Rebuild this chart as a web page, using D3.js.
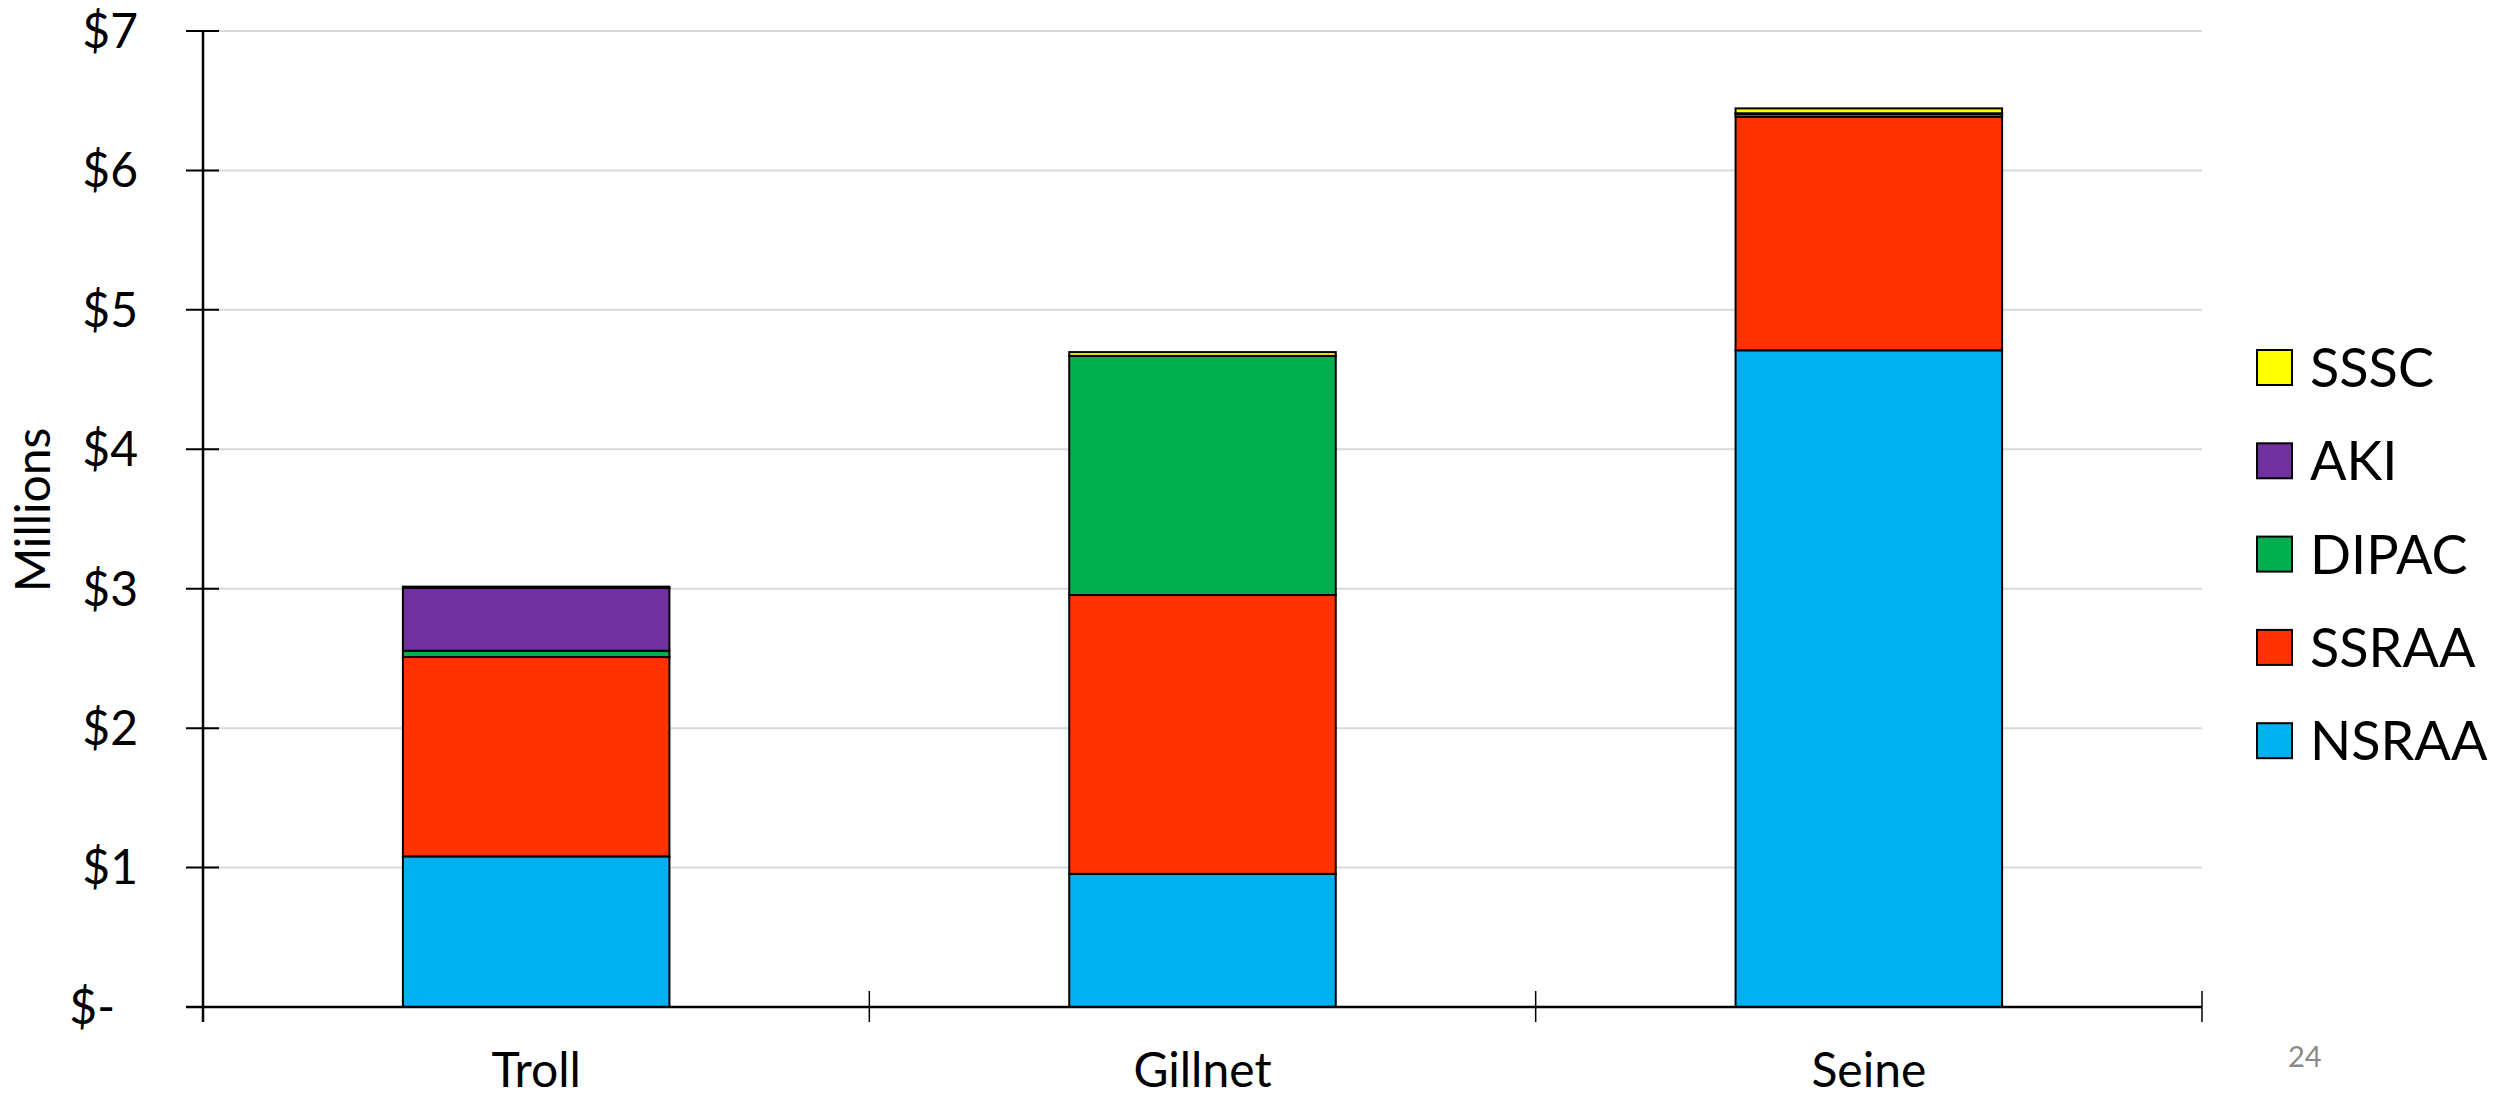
<!DOCTYPE html>
<html>
<head>
<meta charset="utf-8">
<script src="https://cdn.jsdelivr.net/npm/d3@7"></script>
<style>
  html, body { margin: 0; padding: 0; background: #fff; }
  svg { display: block; }
  text { font-family: Lato, "Open Sans", "Liberation Sans", sans-serif; }
</style>
</head>
<body>
<svg id="chart" width="2497" height="1097"></svg>
<script>
// ---- Data (values in millions of dollars) ----
const categories = ["Troll", "Gillnet", "Seine"];
const seriesNames = ["NSRAA", "SSRAA", "DIPAC", "AKI", "SSSC"];
const NSRAA = [1.08, 0.955, 4.71];
const SSRAA = [1.43, 2.0, 1.675];
const DIPAC = [0.045, 1.715, 0.02];
const AKI   = [0.45, 0.0, 0.005];
const SSSC  = [0.01, 0.027, 0.035];
const yTicks = [0, 1, 2, 3, 4, 5, 6, 7];
const yTickLabels = ["$-", "$1", "$2", "$3", "$4", "$5", "$6", "$7"];
const legendOrder = ["SSSC", "AKI", "DIPAC", "SSRAA", "NSRAA"];
const colors = {
  NSRAA: "#00B0F0",
  SSRAA: "#FF3300",
  DIPAC: "#00B050",
  AKI:   "#7030A0",
  SSSC:  "#FFFF00"
};
const yTitle = "Millions";
const pageNumber = "24";

// ---- Build table for stacking ----
const seriesValues = { NSRAA, SSRAA, DIPAC, AKI, SSSC };
const table = categories.map((c, i) => {
  const row = { category: c };
  seriesNames.forEach(s => row[s] = seriesValues[s][i]);
  return row;
});
const stacked = d3.stack().keys(seriesNames)(table);

// ---- Layout ----
const plot = { left: 203, right: 2202, top: 31, bottom: 1007 };
const svg = d3.select("#chart");

const x = d3.scaleBand()
  .domain(categories)
  .range([plot.left, plot.right])
  .paddingInner(0)
  .paddingOuter(0);
const barW = x.bandwidth() * 0.4;

const y = d3.scaleLinear()
  .domain([0, 7])
  .range([plot.bottom, plot.top]);

// Gridlines
svg.append("g")
  .selectAll("line")
  .data(yTicks.filter(t => t > 0))
  .join("line")
  .attr("x1", plot.left)
  .attr("x2", plot.right)
  .attr("y1", d => y(d))
  .attr("y2", d => y(d))
  .attr("stroke", "#d9d9d9")
  .attr("stroke-width", 2);

// Bars
svg.append("g")
  .selectAll("g")
  .data(stacked)
  .join("g")
  .attr("fill", d => colors[d.key])
  .selectAll("rect")
  .data(d => d.filter(p => p[1] - p[0] > 0))
  .join("rect")
  .attr("x", d => x(d.data.category) + (x.bandwidth() - barW) / 2)
  .attr("width", barW)
  .attr("y", d => y(d[1]))
  .attr("height", d => y(d[0]) - y(d[1]))
  .attr("stroke", "#000")
  .attr("stroke-width", 2);

// Y axis
const yAxis = d3.axisLeft(y)
  .tickValues(yTicks)
  .tickSizeInner(0)
  .tickSizeOuter(0)
  .tickFormat((d, i) => yTickLabels[i]);
const yG = svg.append("g")
  .attr("transform", `translate(${plot.left},0)`)
  .call(yAxis);
yG.select(".domain").remove();
yG.selectAll(".tick line").remove();
yG.selectAll(".tick text")
  .attr("x", d => d === 0 ? -88 : -65)
  .attr("dy", "0.34em")
  .attr("font-size", 48)
  .attr("fill", "#000");
// crossing tick marks on y axis
svg.append("g")
  .selectAll("line")
  .data(yTicks)
  .join("line")
  .attr("x1", plot.left - 17)
  .attr("x2", plot.left + 16)
  .attr("y1", d => y(d))
  .attr("y2", d => y(d))
  .attr("stroke", "#000")
  .attr("stroke-width", 2);
// y axis line
svg.append("line")
  .attr("x1", plot.left).attr("x2", plot.left)
  .attr("y1", y(7)).attr("y2", plot.bottom + 15)
  .attr("stroke", "#000")
  .attr("stroke-width", 2.5);

// X axis
const xAxis = d3.axisBottom(x).tickSize(0).tickSizeOuter(0);
const xG = svg.append("g")
  .attr("transform", `translate(0,${plot.bottom})`)
  .call(xAxis);
xG.select(".domain").remove();
xG.selectAll(".tick text")
  .attr("y", 80)
  .attr("dy", 0)
  .attr("font-size", 48)
  .attr("fill", "#000");
svg.append("line")
  .attr("x1", plot.left - 17).attr("x2", plot.right)
  .attr("y1", plot.bottom).attr("y2", plot.bottom)
  .attr("stroke", "#000")
  .attr("stroke-width", 2.5);
// category boundary tick marks (crossing)
const boundaries = categories.map(c => x(c) + x.bandwidth());
svg.append("g")
  .selectAll("line")
  .data(boundaries)
  .join("line")
  .attr("x1", d => d).attr("x2", d => d)
  .attr("y1", plot.bottom - 16).attr("y2", plot.bottom + 15)
  .attr("stroke", "#000")
  .attr("stroke-width", 1.5);

// Y title
svg.append("text")
  .attr("transform", `translate(50,510) rotate(-90)`)
  .attr("text-anchor", "middle")
  .attr("font-size", 48)
  .attr("fill", "#000")
  .text(yTitle);

// Legend
const legend = svg.append("g")
  .selectAll("g")
  .data(legendOrder)
  .join("g")
  .attr("transform", (d, i) => `translate(2257,${350 + i * 93.3})`);
legend.append("rect")
  .attr("width", 35)
  .attr("height", 35)
  .attr("fill", d => colors[d])
  .attr("stroke", "#000")
  .attr("stroke-width", 2);
legend.append("text")
  .attr("x", 53)
  .attr("y", 37)
  .attr("font-family", "'Open Sans', Lato, sans-serif")
  .attr("font-size", 54)
  .attr("fill", "#000")
  .text(d => d);

// Page number
svg.append("text")
  .attr("x", 2288)
  .attr("y", 1067)
  .attr("font-size", 29)
  .attr("fill", "#898989")
  .text(pageNumber);
</script>
</body>
</html>
